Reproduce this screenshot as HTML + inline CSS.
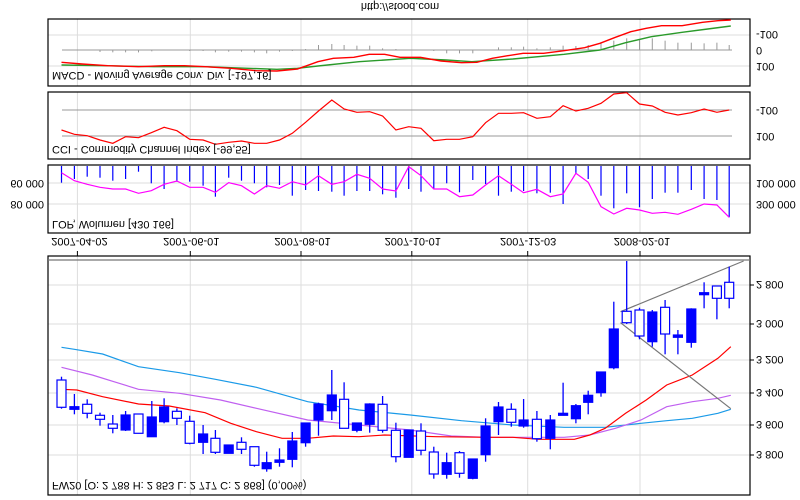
<!DOCTYPE html>
<html><head><meta charset="utf-8"><style>
html,body{margin:0;padding:0;background:#fff;width:800px;height:500px;overflow:hidden}
svg{display:block}
text{font-family:"Liberation Sans",sans-serif;font-size:11px;fill:#000}
</style></head><body>
<svg id="s" width="800" height="500" xmlns="http://www.w3.org/2000/svg"></svg>
<script>
var S=document.getElementById('s'),h='';
var KX=1.95;
function X(v){return (v/KX).toFixed(1);}
function line(x1,y1,x2,y2,c,w){h+='<line x1="'+x1+'" y1="'+y1+'" x2="'+x2+'" y2="'+y2+'" stroke="'+c+'" stroke-width="'+(w||1)+'"/>';}
function txt(x,y,s,anchor){h+='<text transform="translate('+x+','+y+') scale(1,-1)"'+(anchor?' text-anchor="'+anchor+'"':'')+'>'+s+'</text>';}
function poly(pts,off,c,w){var p=pts.map(function(q){return X(q[0])+','+(q[1]/3+off).toFixed(1)}).join(' ');h+='<polyline points="'+p+'" fill="none" stroke="'+c+'" stroke-width="'+w+'"/>';}
var L=48,R=750;
var vg=[151,371,587,803,1029,1248].map(function(v){return +X(v)});
function panel(t,b,hl){
  vg.forEach(function(x){line(x,t,x,b,'#ddd')});
  hl.forEach(function(y){line(L,y,R,y,'#ddd')});
  h+='<rect x="'+L+'" y="'+t+'" width="'+(R-L)+'" height="'+(b-t)+'" fill="none" stroke="#000" stroke-width="1.2"/>';
}
// title
txt(400,3,'http://stood.com','middle');
// MACD panel
panel(19,86,[35,66]);
line(62,50,732,50,'#999',1);
var hb=[[120,150],[195,156],[220,157],[245,157],[270,157],[296,154],[370,153],[396,153],[420,157],[446,155],[471,155],[496,157],[520,160],[545,155],[570,153],[596,147],[621,135],[647,132],[671,135],[696,137],[721,137],[746,145],[772,147],[846,153],[871,160],[896,160],[922,160],[972,142],[997,142],[1021,140],[1047,145],[1073,142],[1098,137],[1123,138],[1147,135],[1172,130],[1197,122],[1222,115],[1247,118],[1272,115],[1297,122],[1322,128],[1348,128],[1373,130],[1398,128],[1422,135]];
hb.forEach(function(b){line(X(b[0]),50,X(b[0]),b[1]/3,'#999',1)});
poly([[120,195],[200,197],[300,200],[400,200],[450,203],[540,208],[580,205],[620,198],[700,185],[800,175],[870,180],[920,185],[1000,177],[1100,163],[1170,150],[1220,128],[1270,110],[1330,97],[1380,87],[1425,78]],0,'#2a9a2a',1.4);
poly([[120,187],[160,192],[210,197],[270,200],[320,197],[360,197],[400,200],[450,205],[500,212],[540,213],[580,207],[620,185],[650,175],[690,172],[720,163],[750,163],[780,172],[820,172],[860,183],[900,188],[930,187],[960,175],[990,167],[1020,160],[1060,160],[1100,152],[1140,143],[1170,130],[1200,112],[1230,95],[1260,85],[1290,77],[1330,77],[1370,67],[1400,62],[1425,60]],0,'#f00',1.4);
txt(756,31,'-100');txt(756,47,'0');txt(756,63,'100');
txt(52,72,'MACD - Moving Average Conv. Div. [-197,16]');
// CCI
panel(92,159,[]);
line(62,110,732,110,'#999',1);line(62,136,732,136,'#999',1);
poly([[120,390],[145,403],[170,407],[195,420],[220,430],[245,410],[270,413],[295,398],[320,382],[345,392],[370,418],[396,420],[420,433],[446,427],[471,423],[496,430],[520,430],[545,420],[570,400],[596,367],[621,333],[647,300],[671,327],[696,337],[721,335],[746,348],[772,390],[797,380],[821,385],[846,422],[871,418],[896,418],[922,410],[947,368],[972,340],[997,340],[1021,338],[1047,355],[1073,350],[1098,317],[1123,333],[1147,325],[1172,310],[1197,282],[1222,278],[1247,312],[1272,318],[1297,337],[1322,345],[1348,338],[1373,327],[1398,337],[1422,330]],0,'#f00',1.2);
txt(756,107,'-100');txt(756,133,'100');
txt(52,146,'CCI - Commodity Channel Index [-99,55]');
// Volume
panel(165,233,[183,204]);
var vb=[[120,548],[145,537],[170,530],[195,533],[220,542],[245,537],[270,515],[295,550],[320,567],[345,545],[370,545],[396,557],[420,590],[446,533],[471,542],[496,550],[520,562],[545,555],[570,587],[596,570],[621,573],[647,575],[671,587],[696,573],[721,573],[746,583],[772,593],[797,567],[821,575],[846,567],[871,550],[896,577],[922,540],[947,552],[972,587],[997,575],[1021,573],[1047,580],[1073,578],[1098,612],[1123,522],[1147,537],[1172,587],[1197,625],[1222,580],[1247,622],[1272,597],[1297,578],[1322,578],[1348,570],[1373,597],[1398,600],[1422,652]];
vb.forEach(function(b){line(X(b[0]),166,X(b[0]),(b[1]/3).toFixed(1),'#00f',1.2)});
poly([[120,518],[145,542],[170,553],[195,562],[220,567],[245,567],[270,580],[295,572],[320,553],[345,543],[370,562],[396,562],[420,577],[446,548],[471,557],[496,582],[520,557],[545,565],[570,545],[596,555],[621,527],[647,553],[671,545],[696,523],[721,535],[746,567],[772,573],[797,500],[821,527],[846,567],[871,567],[896,590],[922,585],[947,555],[972,527],[997,553],[1021,578],[1047,568],[1073,590],[1098,582],[1123,520],[1147,547],[1172,620],[1197,642],[1222,625],[1247,630],[1272,640],[1297,637],[1322,643],[1348,628],[1373,612],[1398,615],[1422,652]],0,'#f0f',1.2);
txt(756,180,'100 000');txt(756,201,'300 000');
txt(44,180,'60 000','end');txt(44,201,'80 000','end');
txt(52,221,'LOP, Wolumen [430 166]');
// dates
[[100,'2007-04-02'],[318,'2007-06-01'],[535,'2007-08-01'],[750,'2007-10-01'],[975,'2007-12-03'],[1197,'2008-02-01']].forEach(function(d){txt(X(d[0]),238,d[1])});
// main panel
var T=256,B=495;
panel(T,B,[285,324,360,393,425,455]);
vg.forEach(function(x){line(x,251,x,T,'#000')});
line(L,260,R,260,'#777',1.2);
['2 800','3 000','3 200','3 400','3 600','3 800'].forEach(function(s,i){var y=[285,324,360,393,425,455][i];line(R,y,R+4,y,'#000');txt(756,y-4,s);});
poly([[120,292],[145,298],[200,312],[270,350],[350,368],[420,388],[500,412],[600,455],[700,480],[800,495],[900,512],[1000,525],[1100,532],[1180,532],[1250,520],[1300,512],[1350,505],[1400,490],[1425,478]],250,'#1a9ae8',1.2);
poly([[120,352],[180,375],[270,418],[350,430],[430,450],[500,475],[600,510],[700,525],[800,540],[880,558],[950,562],[1100,562],[1150,555],[1200,535],[1250,510],[1300,470],[1350,455],[1400,445],[1425,436]],250,'#c060f0',1.2);
poly([[120,418],[150,420],[200,440],[270,462],[330,468],[400,488],[450,520],[500,545],[550,565],[600,565],[650,558],[700,560],[750,555],[850,560],[950,562],[1000,562],[1050,568],[1120,568],[1150,555],[1180,535],[1220,490],[1260,450],[1300,405],[1350,375],[1400,325],[1425,290]],250,'#f00',1.2);
poly([[1210,185],[1450,33]],250,'#777',1.2);
poly([[1210,218],[1425,476]],250,'#777',1.2);
// candles: x, bodyTop, bodyBot, wickTop, wickBot, filled
var C=[[120,390,472,380,476,0],[145,470,478,432,493,1],[170,463,490,448,505,0],[195,496,508,488,527,0],[220,522,535,495,550,0],[245,495,540,483,543,1],[270,492,550,492,550,0],[296,501,560,453,560,1],[320,471,515,445,520,1],[345,484,505,475,525,0],[370,514,580,497,583,0],[396,552,577,525,612,1],[420,565,607,540,612,0],[446,585,610,585,610,1],[471,577,598,562,612,0],[496,590,646,590,650,0],[520,638,656,605,665,1],[545,630,637,595,650,1],[570,573,628,546,652,1],[596,519,578,519,590,1],[621,462,510,458,557,1],[647,435,482,360,510,1],[671,448,535,397,535,0],[696,519,541,519,547,1],[721,462,523,460,548,1],[746,463,541,438,548,0],[772,541,620,518,637,0],[797,540,622,540,622,1],[821,543,601,520,616,0],[846,606,672,590,686,0],[871,638,673,608,686,1],[896,608,670,603,683,0],[922,627,685,627,688,1],[947,528,614,505,635,1],[972,471,515,456,555,1],[997,478,517,460,530,0],[1021,510,528,447,533,1],[1047,508,566,483,575,0],[1073,510,565,495,598,1],[1098,490,493,398,493,1],[1123,467,506,462,520,1],[1147,436,457,422,493,1],[1172,366,428,366,440,1],[1197,237,353,155,358,1],[1222,184,218,33,222,0],[1247,180,258,173,268,0],[1272,186,275,180,290,1],[1297,172,252,150,313,0],[1322,255,262,240,313,1],[1348,177,277,175,293,1],[1373,128,133,97,175,1],[1398,108,145,108,208,0],[1422,97,145,50,175,0]];
C.forEach(function(c){var x=+X(c[0]);var y=function(v){return +(v/3+250).toFixed(1)};
 line(x,y(c[3]),x,y(c[4]),'#00f',1.3);
 var t=y(c[1]),b=y(c[2]);if(b-t<2)b=t+2;
 h+='<rect x="'+(x-4.5)+'" y="'+t+'" width="9" height="'+(b-t)+'" fill="'+(c[5]?'#00f':'#fff')+'" stroke="#00f" stroke-width="1.2"/>';});
txt(52,482,'FW20 [O: 2 788  H: 2 853  L: 2 717  C: 2 868] (0,00%)');
S.innerHTML=h;
</script>
</body></html>
